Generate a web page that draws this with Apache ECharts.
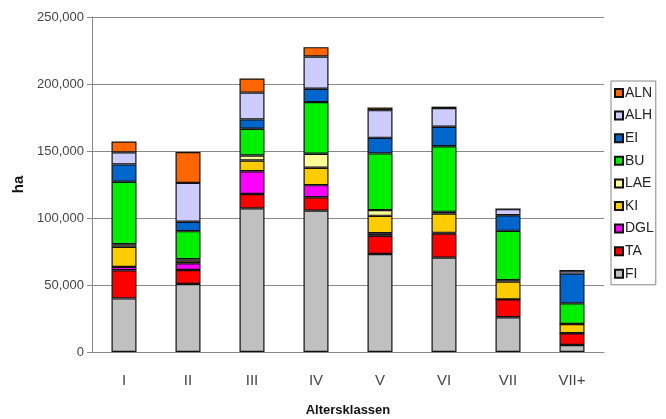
<!DOCTYPE html>
<html>
<head>
<meta charset="utf-8">
<script src="https://cdn.jsdelivr.net/npm/echarts@6/dist/echarts.min.js"></script>
<style>
  html, body { margin: 0; padding: 0; background: #fff; }
  #chart { width: 666px; height: 419px; }
</style>
</head>
<body>
<div id="chart"></div>
<script>
// Altersklassen (age classes)
var categories = ['I', 'II', 'III', 'IV', 'V', 'VI', 'VII', 'VII+'];

// hectares per species, bottom to top of each stack
var FI  = [40000, 50700, 107200, 105500, 73100, 70400, 25900, 5200];
var TA  = [21000, 10500, 10700, 10000, 13700, 18000, 13400, 8800];
var DGL = [2500, 5000, 17000, 9000, 1800, 500, 0, 0];
var KI  = [15000, 2000, 8000, 13000, 13000, 14400, 13300, 6900];
var LAE = [2000, 1000, 3700, 10500, 4300, 1300, 1000, 0];
var BU  = [46500, 21000, 20000, 38500, 42300, 49000, 36800, 15400];
var EI  = [13000, 7000, 7000, 10000, 11600, 14500, 11700, 22200];
var ALH = [9000, 29000, 20000, 24000, 20700, 14000, 4500, 2200];
var ALN = [8000, 23000, 10500, 7000, 2000, 1000, 0, 0];

var yTicks = [0, 50000, 100000, 150000, 200000, 250000];

var seriesList = [
  { name: 'FI',  data: FI,  color: '#c0c0c0' },
  { name: 'TA',  data: TA,  color: '#ff0000' },
  { name: 'DGL', data: DGL, color: '#ff00ff' },
  { name: 'KI',  data: KI,  color: '#ffcc00' },
  { name: 'LAE', data: LAE, color: '#ffff99' },
  { name: 'BU',  data: BU,  color: '#00ee00' },
  { name: 'EI',  data: EI,  color: '#0066cc' },
  { name: 'ALH', data: ALH, color: '#ccccff' },
  { name: 'ALN', data: ALN, color: '#ff6600' }
];

var fmt = function (v) {
  return String(v).replace(/\B(?=(\d{3})+(?!\d))/g, ',');
};

var chart = echarts.init(document.getElementById('chart'));
chart.setOption({
  animation: false,
  textStyle: { fontFamily: 'Liberation Sans, Arial, sans-serif' },
  grid: { left: 92, right: 62, top: 17, bottom: 67, outerBoundsMode: 'none' },
  legend: {
    orient: 'vertical',
    left: 611,
    top: 81,
    data: seriesList.map(function (s) { return s.name; }).reverse(),
    icon: 'rect',
    itemWidth: 8,
    itemHeight: 8,
    itemGap: 8.6,
    padding: [5, 2, 4, 3],
    borderColor: '#888',
    borderWidth: 1,
    textStyle: { fontSize: 14, color: '#222', padding: [0, 0, 0, -3] }
  },
  xAxis: {
    type: 'category',
    data: categories,
    name: 'Altersklassen',
    nameLocation: 'middle',
    nameGap: 52,
    nameTextStyle: { fontSize: 13, fontWeight: 'bold', color: '#111' },
    axisLine: { lineStyle: { color: '#888' } },
    axisTick: { length: 5, lineStyle: { color: '#888' } },
    axisLabel: { fontSize: 15, color: '#444', margin: 21 }
  },
  yAxis: {
    type: 'value',
    min: yTicks[0],
    max: yTicks[yTicks.length - 1],
    interval: 50000,
    name: 'ha',
    nameLocation: 'middle',
    nameRotate: 90,
    nameGap: 62,
    nameTextStyle: { fontSize: 15, fontWeight: 'bold', color: '#111' },
    axisLine: { show: true, lineStyle: { color: '#888' } },
    axisTick: { show: true, length: 5, lineStyle: { color: '#888' } },
    axisLabel: { fontSize: 13, color: '#444', margin: 8, formatter: fmt },
    splitLine: { lineStyle: { color: '#888' } }
  },
  series: seriesList.map(function (s) {
    return {
      name: s.name,
      type: 'bar',
      stack: 'total',
      barWidth: 25,
      data: s.data,
      itemStyle: { color: s.color, borderColor: '#111', borderWidth: 1.2 }
    };
  })
});
</script>
</body>
</html>
